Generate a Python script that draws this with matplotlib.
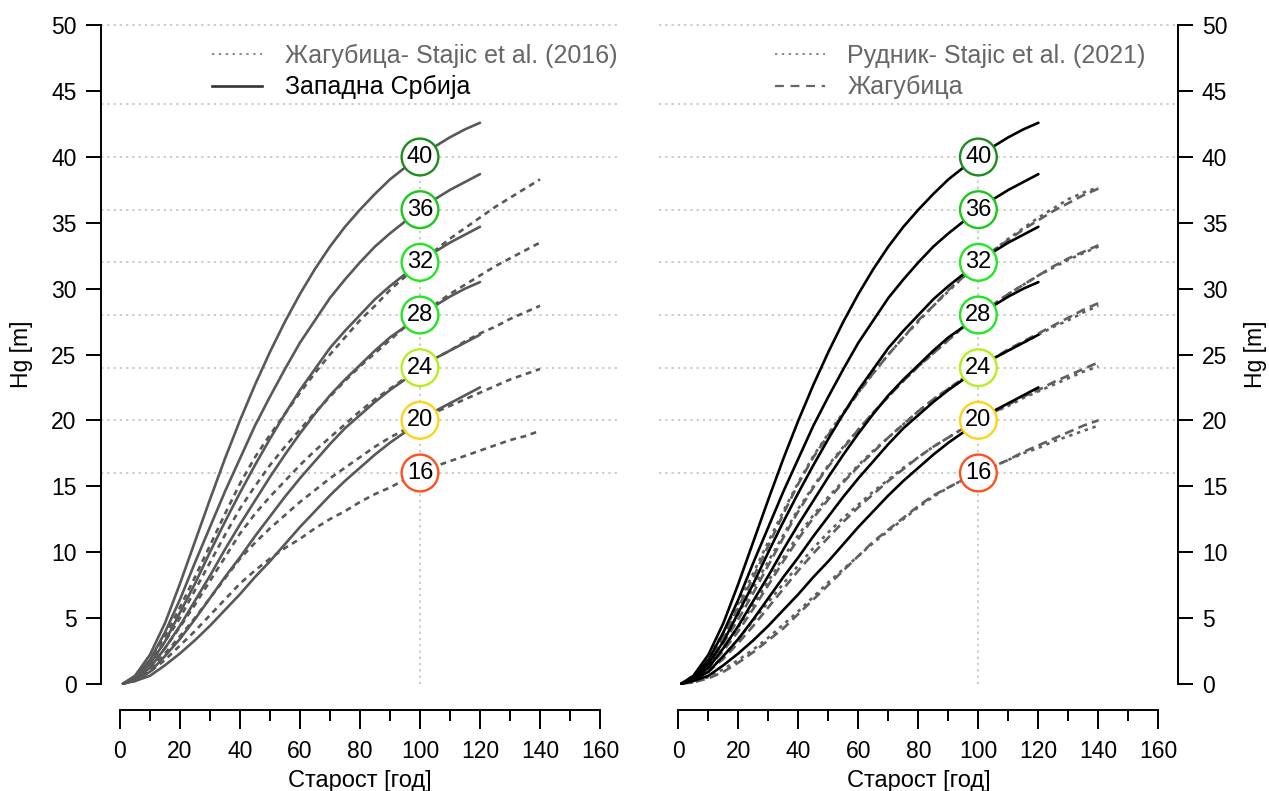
import matplotlib
matplotlib.use("Agg")
import matplotlib.pyplot as plt
from matplotlib.lines import Line2D
from matplotlib.ticker import MultipleLocator

plt.rcParams['font.family'] = ['Liberation Sans', 'DejaVu Sans']

# ---------------------------------------------------------------- data
site_indices = [16, 20, 24, 28, 32, 36, 40]
index_age = 100
circle_colors = ['#ff4f1f', '#ffd21a', '#b4f01e', '#22e622', '#22e622', '#19c819', '#1e8c1e']
grid_levels = [16, 20, 24, 28, 32, 36, 40, 44, 50]

ages_120 = [1, 5, 10, 15, 20, 25, 30, 35, 40, 45, 50, 55, 60, 65, 70, 75, 80,
            85, 90, 95, 100, 105, 110, 115, 120]
ages_140 = ages_120 + [125, 130, 135, 140]

# Западна Србија (SI 20 ... 40)
ws_si20 = [0, 0.2, 0.6, 1.4, 2.3, 3.3, 4.4, 5.6, 6.8, 8.1, 9.3, 10.6, 11.9, 13.1,
           14.3, 15.4, 16.4, 17.4, 18.3, 19.1, 20.0, 20.7, 21.3, 21.9, 22.5]
ws_si24 = [0, 0.3, 0.9, 2.1, 3.4, 4.9, 6.5, 8.1, 9.6, 11.2, 12.7, 14.2, 15.6, 16.9,
           18.2, 19.4, 20.4, 21.4, 22.3, 23.1, 24.0, 24.7, 25.3, 25.9, 26.5]
ws_si28 = [0, 0.4, 1.2, 2.7, 4.4, 6.3, 8.2, 10.2, 12.1, 13.9, 15.7, 17.4, 19.0, 20.5,
           21.9, 23.1, 24.2, 25.3, 26.3, 27.1, 28.0, 28.7, 29.4, 30.0, 30.5]
ws_si32 = [0, 0.4, 1.5, 3.2, 5.4, 7.6, 10.0, 12.3, 14.5, 16.6, 18.6, 20.5, 22.3, 23.9,
           25.5, 26.8, 28.0, 29.2, 30.2, 31.1, 32.0, 32.8, 33.5, 34.1, 34.7]
ws_si36 = [0, 0.5, 1.8, 3.9, 6.4, 9.2, 11.9, 14.6, 17.1, 19.6, 21.8, 23.9, 25.9, 27.6,
           29.3, 30.7, 32.0, 33.2, 34.2, 35.1, 36.0, 36.8, 37.5, 38.1, 38.7]
ws_si40 = [0, 0.6, 2.2, 4.6, 7.6, 10.8, 14.0, 17.1, 20.0, 22.7, 25.2, 27.5, 29.6, 31.5,
           33.2, 34.7, 36.0, 37.2, 38.3, 39.2, 40.0, 40.8, 41.5, 42.1, 42.6]

# Жагубица - Stajic et al. (2016), SI 16 ... 32
zs16_si16 = [0, 0.2, 0.9, 1.8, 2.9, 4.0, 5.2, 6.4, 7.6, 8.6, 9.5, 10.3, 11.0, 11.8, 12.5,
             13.1, 13.8, 14.4, 14.9, 15.5, 16.0, 16.5, 16.9, 17.3, 17.7, 18.1, 18.5, 18.8, 19.2]
zs16_si20 = [0, 0.3, 1.1, 2.3, 3.6, 5.0, 6.5, 8.0, 9.5, 10.7, 11.8, 12.8, 13.8, 14.7, 15.6,
             16.4, 17.2, 18.0, 18.7, 19.3, 20.0, 20.6, 21.1, 21.6, 22.1, 22.6, 23.1, 23.5, 23.9]
zs16_si24 = [0, 0.4, 1.3, 2.7, 4.3, 6.0, 7.8, 9.6, 11.4, 12.9, 14.2, 15.4, 16.6, 17.7, 18.7,
             19.7, 20.7, 21.6, 22.4, 23.2, 24.0, 24.7, 25.3, 26.0, 26.6, 27.1, 27.7, 28.2, 28.7]
zs16_si28 = [0, 0.4, 1.5, 3.2, 5.0, 7.1, 9.2, 11.3, 13.3, 15.0, 16.6, 18.0, 19.3, 20.6, 21.8,
             23.0, 24.1, 25.1, 26.1, 27.1, 28.0, 28.8, 29.6, 30.3, 31.0, 31.7, 32.3, 32.9, 33.5]
zs16_si32 = [0, 0.5, 1.8, 3.6, 5.8, 8.1, 10.5, 12.9, 15.2, 17.2, 18.9, 20.5, 22.1, 23.6, 25.0,
             26.3, 27.6, 28.7, 29.9, 30.9, 32.0, 32.9, 33.8, 34.6, 35.4, 36.2, 36.9, 37.6, 38.3]

# Жагубица (SI 16 ... 32)
zg_si16 = [0, 0.1, 0.4, 0.9, 1.6, 2.4, 3.3, 4.2, 5.3, 6.4, 7.5, 8.6, 9.7, 10.8, 11.7,
           12.6, 13.5, 14.3, 14.9, 15.5, 16.0, 16.5, 17.0, 17.6, 18.1, 18.6, 19.1, 19.6, 20.0]
zg_si20 = [0, 0.2, 0.9, 1.9, 3.1, 4.4, 5.8, 7.2, 8.6, 9.9, 11.1, 12.3, 13.4, 14.4, 15.4,
           16.3, 17.2, 18.0, 18.7, 19.4, 20.0, 20.6, 21.2, 21.8, 22.3, 22.9, 23.4, 23.9, 24.4]
zg_si24 = [0, 0.3, 1.2, 2.5, 4.0, 5.7, 7.5, 9.3, 11.0, 12.6, 14.0, 15.3, 16.5, 17.6, 18.7,
           19.7, 20.7, 21.6, 22.4, 23.2, 24.0, 24.7, 25.4, 26.0, 26.6, 27.2, 27.8, 28.4, 28.9]
zg_si28 = [0, 0.4, 1.5, 3.1, 4.9, 6.9, 9.0, 11.1, 13.1, 14.9, 16.5, 17.9, 19.3, 20.6, 21.8,
           23.0, 24.1, 25.1, 26.1, 27.1, 28.0, 28.8, 29.6, 30.3, 31.0, 31.7, 32.3, 32.8, 33.3]
zg_si32 = [0, 0.5, 1.8, 3.6, 5.8, 8.1, 10.5, 12.9, 15.2, 17.2, 18.9, 20.5, 22.1, 23.6, 25.0,
           26.3, 27.6, 28.7, 29.9, 30.9, 32.0, 32.9, 33.7, 34.5, 35.2, 35.9, 36.5, 37.1, 37.6]

# Рудник - Stajic et al. (2021), SI 16 ... 32
rd_si16 = [0, 0.1, 0.5, 1.1, 1.8, 2.6, 3.5, 4.5, 5.5, 6.6, 7.7, 8.7, 9.7, 10.7, 11.6,
           12.5, 13.4, 14.2, 14.9, 15.5, 16.0, 16.5, 17.0, 17.5, 17.9, 18.4, 18.8, 19.2, 19.6]
rd_si20 = [0, 0.3, 1.0, 2.1, 3.4, 4.8, 6.2, 7.6, 9.0, 10.3, 11.5, 12.6, 13.6, 14.6, 15.5,
           16.4, 17.2, 18.0, 18.7, 19.4, 20.0, 20.6, 21.1, 21.7, 22.2, 22.7, 23.2, 23.7, 24.1]
rd_si24 = [0, 0.4, 1.3, 2.7, 4.3, 6.0, 7.8, 9.6, 11.3, 12.8, 14.2, 15.4, 16.6, 17.7, 18.7,
           19.7, 20.7, 21.6, 22.4, 23.2, 24.0, 24.7, 25.3, 25.9, 26.5, 27.1, 27.6, 28.2, 28.7]
rd_si28 = [0, 0.5, 1.7, 3.4, 5.3, 7.3, 9.3, 11.3, 13.3, 15.0, 16.6, 18.0, 19.3, 20.6, 21.8,
           23.0, 24.1, 25.1, 26.1, 27.1, 28.0, 28.8, 29.6, 30.3, 31.0, 31.6, 32.2, 32.7, 33.2]
rd_si32 = [0, 0.6, 2.0, 3.9, 6.1, 8.4, 10.8, 13.1, 15.3, 17.3, 19.0, 20.6, 22.1, 23.6, 25.0,
           26.3, 27.5, 28.7, 29.8, 30.9, 32.0, 32.9, 33.8, 34.6, 35.4, 36.1, 36.8, 37.3, 37.7]

west_serbia = [ws_si20, ws_si24, ws_si28, ws_si32, ws_si36, ws_si40]
zagubica_2016 = [zs16_si16, zs16_si20, zs16_si24, zs16_si28, zs16_si32]
zagubica = [zg_si16, zg_si20, zg_si24, zg_si28, zg_si32]
rudnik_2021 = [rd_si16, rd_si20, rd_si24, rd_si28, rd_si32]

# ---------------------------------------------------------------- styling
GRAY_LINE = '#585858'
GRAY_TEXT = '#666666'
GRID = '#bdbdbd'
FS = 16.5
FS_LEG = 18
LW = 1.9

W, H = 1269, 791
fig = plt.figure(figsize=(W / 100, H / 100), dpi=100)
ax_l = fig.add_axes([100.8 / W, 81 / H, 518.4 / W, 711 / H])
ax_r = fig.add_axes([659.2 / W, 81 / H, 518.4 / W, 711 / H])


def frame(ax, side):
    ax.set_xlim(-6.4, 166.4)
    ax.set_ylim(-2, 52)
    for s in ax.spines.values():
        s.set_visible(False)
    ax.spines['bottom'].set_visible(True)
    ax.spines['bottom'].set_bounds(0, 160)
    ax.spines['bottom'].set_linewidth(1.4)
    ax.spines[side].set_visible(True)
    ax.spines[side].set_bounds(0, 50)
    ax.spines[side].set_linewidth(1.4)
    ax.xaxis.set_major_locator(MultipleLocator(20))
    ax.xaxis.set_minor_locator(MultipleLocator(10))
    ax.yaxis.set_major_locator(MultipleLocator(5))
    ax.tick_params(axis='x', which='major', length=13.5, width=1.4, pad=8,
                   labelsize=FS, direction='out')
    ax.tick_params(axis='x', which='minor', length=8, width=1.4, direction='out')
    if side == 'right':
        ax.yaxis.tick_right()
        ax.yaxis.set_label_position('right')
    ax.tick_params(axis='y', which='major', length=10.5, width=1.4, pad=7,
                   labelsize=FS, direction='out')
    ax.set_xlabel('Старост [год]', fontsize=FS + 0.5, labelpad=5)
    ax.set_ylabel('Hg [m]', fontsize=FS, labelpad=13 if side == 'left' else 12,
                  rotation=90)
    for g in grid_levels:
        ax.axhline(g, color=GRID, lw=1.1, linestyle=(0, (1.5, 2.6)), zorder=1)
    ax.vlines(index_age, 0, max(site_indices), color=GRID, lw=1.1,
              linestyles=[(0, (1.5, 2.6))], zorder=1)


def circles(ax):
    ax.scatter([index_age] * len(site_indices), site_indices, s=700,
               facecolor='white', edgecolors=circle_colors, linewidths=1.7, zorder=6)
    for si in site_indices:
        ax.text(index_age, si, str(si), ha='center', va='center',
                fontsize=FS + 0.5, color='black', zorder=7)


line_kw = dict(solid_joinstyle='round', solid_capstyle='round',
               dash_joinstyle='round')

# ---------------------------------------------------------------- left panel
frame(ax_l, 'left')
for h in zagubica_2016:
    ax_l.plot(ages_140, h, color=GRAY_LINE, lw=LW, linestyle=(0, (2.2, 1.8)),
              zorder=3, **line_kw)
for h in west_serbia:
    ax_l.plot(ages_120, h, color=GRAY_LINE, lw=LW, zorder=4, **line_kw)
circles(ax_l)

leg_l = ax_l.legend(
    [Line2D([], [], color=GRAY_TEXT, lw=1.1, linestyle=(0, (1.5, 3))),
     Line2D([], [], color='#333333', lw=LW)],
    ['Жагубица- Stajic et al. (2016)', 'Западна Србија'],
    loc='upper left', bbox_to_anchor=(0.215, 0.937), frameon=False,
    fontsize=FS_LEG, handlelength=2.0, handletextpad=0.9, labelspacing=0.3,
    borderpad=0, borderaxespad=0)
leg_l.get_texts()[0].set_color(GRAY_TEXT)
leg_l.get_texts()[1].set_color('black')

# ---------------------------------------------------------------- right panel
frame(ax_r, 'right')
for h in rudnik_2021:
    ax_r.plot(ages_140, h, color='#606060', lw=LW, linestyle=(0, (1.3, 1.8)),
              zorder=3, **line_kw)
for h in zagubica:
    ax_r.plot(ages_140, h, color='#606060', lw=LW, linestyle=(0, (3.5, 2.0)),
              zorder=3, **line_kw)
for h in west_serbia:
    ax_r.plot(ages_120, h, color='black', lw=LW, zorder=4, **line_kw)
circles(ax_r)

leg_r = ax_r.legend(
    [Line2D([], [], color=GRAY_TEXT, lw=1.1, linestyle=(0, (1.5, 3))),
     Line2D([], [], color=GRAY_TEXT, lw=1.6, linestyle=(0, (4, 3)))],
    ['Рудник- Stajic et al. (2021)', 'Жагубица'],
    loc='upper left', bbox_to_anchor=(0.223, 0.937), frameon=False,
    fontsize=FS_LEG, handlelength=2.0, handletextpad=0.9, labelspacing=0.3,
    borderpad=0, borderaxespad=0)
for t in leg_r.get_texts():
    t.set_color(GRAY_TEXT)

fig.savefig('out.png', dpi=100)
